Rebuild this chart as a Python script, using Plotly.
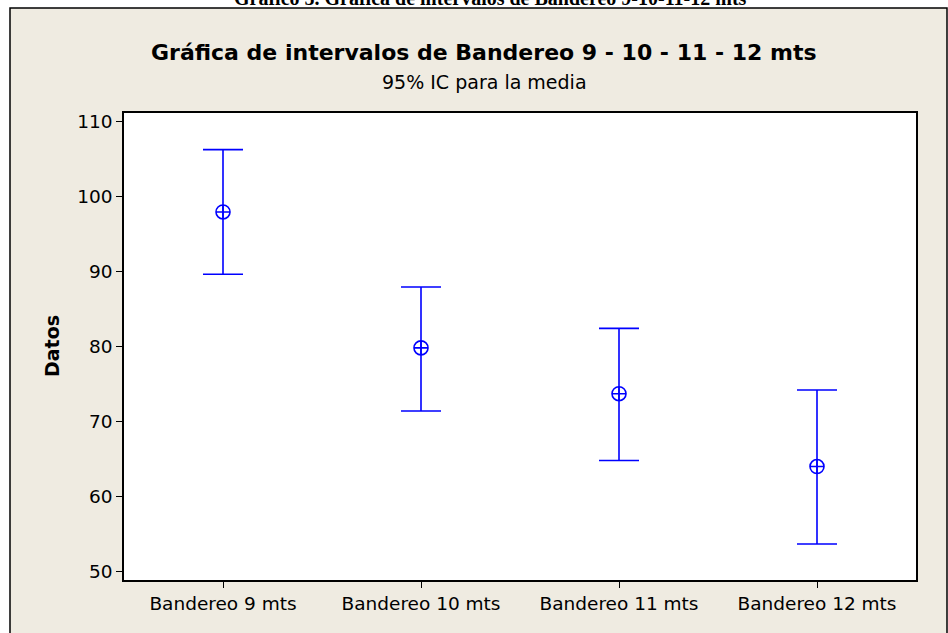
import plotly.graph_objects as go

categories = ["Bandereo 9 mts", "Bandereo 10 mts", "Bandereo 11 mts", "Bandereo 12 mts"]
means = [97.9, 79.8, 73.7, 64.0]
upper = [106.2, 87.9, 82.4, 74.2]
lower = [89.6, 71.4, 64.8, 53.7]
y_ticks = [50, 60, 70, 80, 90, 100, 110]

W, H = 948, 633
L, R, T, B = 124, 32, 113, 53
pw, ph = W - L - R, H - T - B

def px(xp):
    return (xp - L) / pw

def py(yp):
    return (H - B - yp) / ph

FONT = "DejaVu Sans, sans-serif"
BLUE = "#0000FF"

xs = list(range(len(categories)))
fig = go.Figure()
fig.add_trace(go.Scatter(
    x=xs, y=means, mode="markers",
    marker=dict(symbol="circle-cross-open", size=14, color=BLUE, line=dict(width=1.6, color=BLUE)),
    error_y=dict(type="data", symmetric=False,
                 array=[u - m for u, m in zip(upper, means)],
                 arrayminus=[m - l for m, l in zip(means, lower)],
                 color=BLUE, thickness=1.6, width=20),
    showlegend=False, hoverinfo="skip",
))

shapes = [
    dict(type="rect", xref="paper", yref="paper", layer="below",
         x0=px(10), x1=px(947), y0=py(645), y1=py(8),
         fillcolor="#EFEBE1", line=dict(color="black", width=1.5)),
    dict(type="rect", xref="paper", yref="paper", layer="below",
         x0=0, x1=1, y0=0, y1=1, fillcolor="white", line=dict(width=0)),
]

annotations = [
    dict(text="<b>Gráfico 5. Gráfica de intervalos de Bandereo 9-10-11-12 mts</b>",
         xref="paper", yref="paper", x=px(490), y=py(11), xanchor="center", yanchor="bottom",
         showarrow=False, font=dict(family="Liberation Serif, serif", size=20, color="black")),
    dict(text="<b>Gráfica de intervalos de Bandereo 9 - 10 - 11 - 12 mts</b>",
         xref="paper", yref="paper", x=px(484), y=py(53), xanchor="center", yanchor="middle",
         showarrow=False, font=dict(family=FONT, size=22, color="black")),
    dict(text="95% IC para la media",
         xref="paper", yref="paper", x=px(484), y=py(82), xanchor="center", yanchor="middle",
         showarrow=False, font=dict(family=FONT, size=19, color="black")),
    dict(text="<b>Datos</b>",
         xref="paper", yref="paper", x=px(52), y=py(346), xanchor="center", yanchor="middle",
         textangle=-90, showarrow=False, font=dict(family=FONT, size=19, color="black")),
]

fig.update_layout(
    width=W, height=H,
    margin=dict(l=L, r=R, t=T, b=B, pad=0),
    paper_bgcolor="white", plot_bgcolor="white",
    shapes=shapes, annotations=annotations,
    font=dict(family=FONT, size=18, color="black"),
    xaxis=dict(range=[-0.5, 3.5], tickvals=xs, ticktext=categories,
               showgrid=False, zeroline=False, showline=True, mirror=True,
               linecolor="black", linewidth=1.5, ticks="outside", ticklen=6,
               tickcolor="black", tickwidth=1.2, tickfont=dict(family=FONT, size=18.5)),
    yaxis=dict(range=[48.9, 111.07], tickvals=y_ticks,
               showgrid=False, zeroline=False, showline=True, mirror=True,
               linecolor="black", linewidth=1.5, ticks="outside", ticklen=6,
               tickcolor="black", tickwidth=1.2, tickfont=dict(family=FONT, size=18.5)),
)

fig.write_html("out.html", config={"displayModeBar": False},
               post_script="document.body.style.margin='0px';")
